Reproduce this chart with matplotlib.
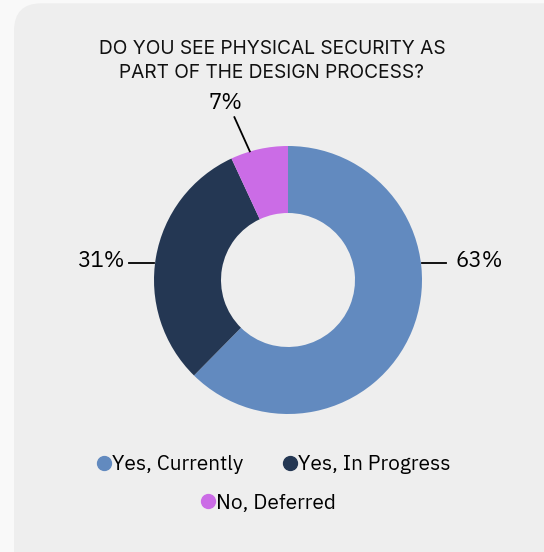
import matplotlib.pyplot as plt
from matplotlib.patches import FancyBboxPatch
from matplotlib.lines import Line2D

categories = ['Yes, Currently', 'Yes, In Progress', 'No, Deferred']
shares = [63, 31, 7]
labels = ['63%', '31%', '7%']
colors = ['#628abf', '#243753', '#cb6ce6']

plt.rcParams['font.family'] = ['IBM Plex Sans', 'Inter', 'DejaVu Sans']

fig = plt.figure(figsize=(5.44, 5.52), dpi=100)
fig.patch.set_facecolor('#f9f9f9')
card = FancyBboxPatch((14 / 544, -0.1), 1.2, 1.094, transform=fig.transFigure,
                      boxstyle='round,pad=0,rounding_size=0.05',
                      facecolor='#eeeeee', edgecolor='none', zorder=-5)
fig.patches.append(card)

# axes span the whole figure: donut centre at (288, 280) px, radius 134 px
ax = fig.add_axes([0, 0, 1, 1])
ax.pie(shares, colors=colors, startangle=90, counterclock=False, radius=1.0,
       wedgeprops=dict(width=0.5, linewidth=0))
ax.set_xlim(-288 / 134, 256 / 134)
ax.set_ylim((280 - 552) / 134, 280 / 134)
ax.axis('off')

ax.text(-0.12, 1.635, 'DO YOU SEE PHYSICAL SECURITY AS\nPART OF THE DESIGN PROCESS?',
        ha='center', va='center', fontsize=13.8, linespacing=1.45, color='#111111',
        family=['Inter', 'DejaVu Sans'])

# data labels with leader lines
ax.plot([1.0, 1.18], [0.125, 0.125], color='black', lw=1.3)
ax.text(1.25, 0.14, labels[0], ha='left', va='center', fontsize=16)
ax.plot([-1.0, -1.19], [0.125, 0.125], color='black', lw=1.3)
ax.text(-1.22, 0.14, labels[1], ha='right', va='center', fontsize=16)
ax.plot([-0.285, -0.40], [0.96, 1.215], color='black', lw=1.3)
ax.text(-0.47, 1.32, labels[2], ha='center', va='center', fontsize=16)

handles = [Line2D([], [], marker='o', linestyle='none', markersize=10,
                  markerfacecolor=c, markeredgecolor=c) for c in colors]
fig.legend(handles[:2], categories[:2], loc='center', ncol=2,
           bbox_to_anchor=(272 / 544, 1 - 465 / 552), frameon=False,
           fontsize=15, handletextpad=-0.1, columnspacing=1.75,
           handlelength=1.0)
fig.legend(handles[2:], categories[2:], loc='center',
           bbox_to_anchor=(267 / 544, 1 - 503 / 552), frameon=False,
           fontsize=15, handletextpad=-0.1, handlelength=1.0)

fig.savefig('out.png', dpi=100, facecolor=fig.get_facecolor())
